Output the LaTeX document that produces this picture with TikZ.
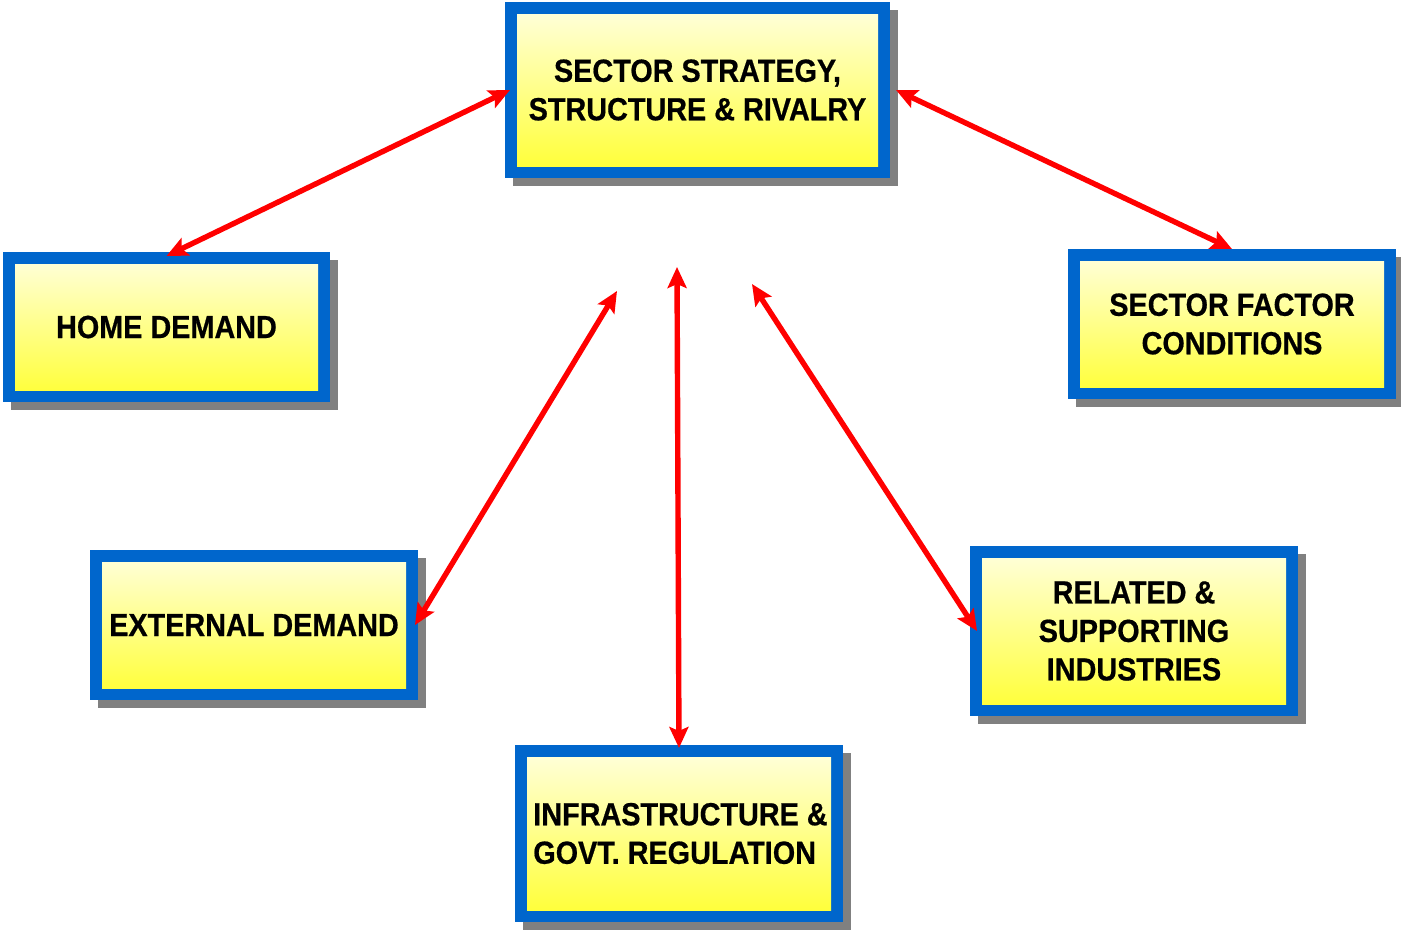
\documentclass[tikz,border=0pt]{standalone}
\usepackage{fontspec}
\newfontfamily\boxfont{Liberation Sans}[FakeStretch=0.9, BoldFeatures={FakeBold=0.6}]
\usetikzlibrary{arrows.meta,shadows}
\definecolor{frameblue}{RGB}{0,102,204}
\definecolor{shadowgray}{RGB}{128,128,128}
\definecolor{paleyellow}{RGB}{255,255,226}
\definecolor{deepyellow}{RGB}{255,255,48}
\definecolor{linkred}{RGB}{255,0,0}
\tikzset{
  factorbox/.style={
    rectangle, inner sep=0pt, outer sep=0pt, fill=frameblue,
    drop shadow={shadow xshift=8pt, shadow yshift=-8pt, fill=shadowgray, opacity=1},
    path picture={
      \shade[top color=paleyellow, bottom color=deepyellow]
        ([shift={(12pt,-12pt)}]path picture bounding box.north west) rectangle
        ([shift={(-12pt,12pt)}]path picture bounding box.south east);
    },
    font=\boxfont\bfseries\fontsize{32}{38.5}\selectfont, text=black, align=center
  },
  link/.style={
    draw=linkred, line width=5.4pt,
    {Stealth[length=21pt,width=19pt,inset=4pt]}-{Stealth[length=21pt,width=19pt,inset=4pt]}
  }
}
\begin{document}
\begin{tikzpicture}[x=1pt,y=-1pt]
\useasboundingbox (0,0) rectangle (1401,932);

% boxes
\node[factorbox, minimum width=385pt, minimum height=176pt] (strategy) at (697.5,90)
  {SECTOR STRATEGY,\\STRUCTURE \& RIVALRY};
\node[factorbox, minimum width=327pt, minimum height=150pt] (home) at (166.5,327)
  {HOME DEMAND};
\node[factorbox, minimum width=328pt, minimum height=150pt] (factor) at (1232,324)
  {SECTOR FACTOR\\CONDITIONS};
\node[factorbox, minimum width=328pt, minimum height=150pt] (external) at (254,625)
  {EXTERNAL DEMAND};
\node[factorbox, minimum width=328pt, minimum height=170pt] (related) at (1134,631)
  {RELATED \&\\SUPPORTING\\INDUSTRIES};
\node[factorbox, align=left, minimum width=328pt, minimum height=177pt] (infra) at (679,833.5)
  {\hspace*{3pt}INFRASTRUCTURE \&\\\hspace*{3pt}GOVT. REGULATION};

% free ends of the central connectors
\coordinate (hubleft) at (617,291);
\coordinate (hubmid) at (677,267);
\coordinate (hubright) at (752,284);

% connectors
\draw[link] ([xshift=5pt]strategy.west) -- ([yshift=-4pt]home.north);
\draw[link] ([xshift=6pt]strategy.east) -- (factor.north);
\draw[link] (hubleft) -- ([xshift=-3pt]external.east);
\draw[link] (hubmid) -- ([yshift=-3pt]infra.north);
\draw[link] (hubright) -- ([xshift=7pt]related.west);
\end{tikzpicture}
\end{document}
